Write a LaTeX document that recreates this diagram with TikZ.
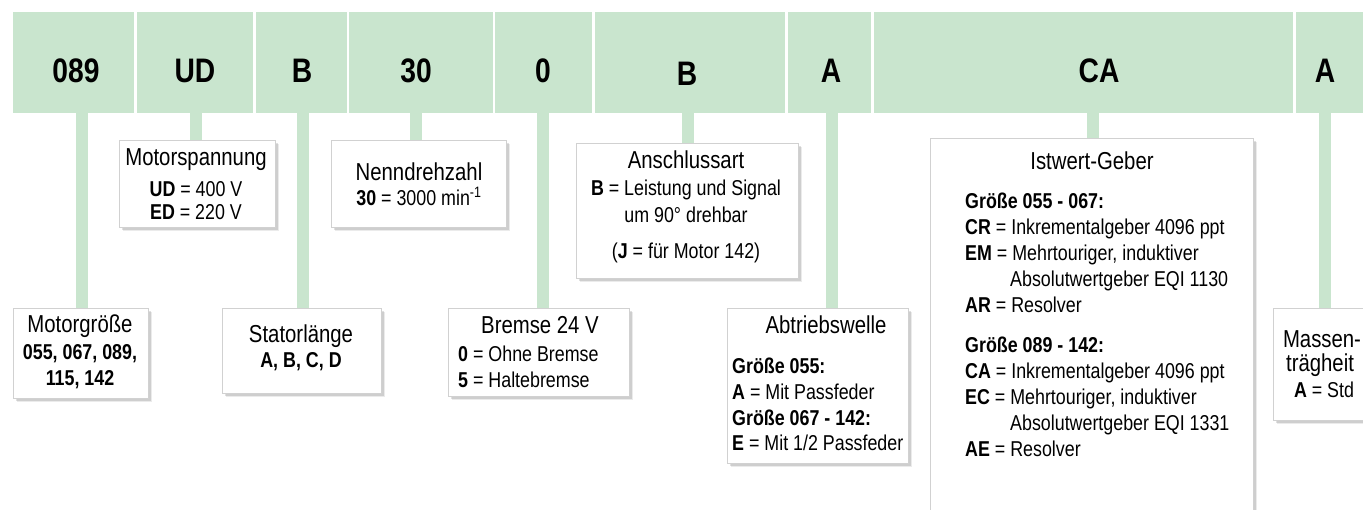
\documentclass[tikz,border=0pt]{standalone}
\usepackage{fontspec}
\setmainfont{Liberation Sans}[FakeStretch=0.83]
\usetikzlibrary{shadows}
\definecolor{band}{RGB}{201,229,206}
\pgfdeclarelayer{bg}
\pgfsetlayers{bg,main}
\tikzset{
  cell/.style={fill=band, draw=none, anchor=north west, inner sep=0pt, outer sep=0pt, minimum height=101pt},
  code/.style={font=\fontsize{34}{34}\selectfont\bfseries, anchor=base, inner sep=0pt},
  infobox/.style={fill=white, draw=black!18, line width=0.6pt, anchor=north west, inner sep=0pt, outer sep=0pt,
    drop shadow={shadow xshift=4pt, shadow yshift=-4pt, opacity=0.08, fill=black},
    drop shadow={shadow xshift=2.5pt, shadow yshift=-2.5pt, opacity=0.12, fill=black},
    drop shadow={shadow xshift=1.2pt, shadow yshift=-1.2pt, opacity=0.18, fill=black}},
  ttl/.style={font=\fontsize{24.5}{26}\selectfont, anchor=base, inner sep=0pt},
  txt/.style={font=\fontsize{21.5}{26}\selectfont, anchor=base, inner sep=0pt},
  txtl/.style={txt, anchor=base west},
  conn/.style={draw=band, line width=12pt},
}
\begin{document}
\begin{tikzpicture}[x=1pt, y=-1pt]
\useasboundingbox (0,0) rectangle (1363,509);
\clip (0,0) rectangle (1363,509);
% top band
\node[cell, minimum width=121pt] (c1) at (13,12) {};
\node[cell, minimum width=116pt] (c2) at (137,12) {};
\node[cell, minimum width=91pt]  (c3) at (256,12) {};
\node[cell, minimum width=144pt] (c4) at (349,12) {};
\node[cell, minimum width=97pt]  (c5) at (495,12) {};
\node[cell, minimum width=190pt] (c6) at (595,12) {};
\node[cell, minimum width=83pt]  (c7) at (788,12) {};
\node[cell, minimum width=419pt] (c8) at (874,12) {};
\node[cell, minimum width=90pt]  (c9) at (1296,12) {};
\node[code] (l1) at (76,82) {089};
\node[code] (l2) at (195,82) {UD};
\node[code] (l3) at (302,82) {B};
\node[code] (l4) at (416,82) {30};
\node[code] (l5) at (543,82) {0};
\node[code] (l6) at (687,85) {B};
\node[code] (l7) at (831,82) {A};
\node[code] (l8) at (1099,82) {CA};
\node[code] (l9) at (1325,82) {A};
% boxes
\node[infobox, minimum width=156pt, minimum height=87pt]  (ms) at (119,140) {};
\node[infobox, minimum width=175pt, minimum height=87pt]  (nd) at (331,140) {};
\node[infobox, minimum width=222pt, minimum height=135pt] (an) at (576,143) {};
\node[infobox, minimum width=323pt, minimum height=400pt] (iw) at (930,138) {};
\node[infobox, minimum width=135pt, minimum height=90pt]  (mg) at (13,308) {};
\node[infobox, minimum width=159pt, minimum height=85pt]  (sl) at (222,308) {};
\node[infobox, minimum width=181pt, minimum height=88pt]  (br) at (448,308) {};
\node[infobox, minimum width=181pt, minimum height=155pt] (ab) at (727,308) {};
\node[infobox, minimum width=120pt, minimum height=112pt] (mt) at (1273,308) {};
% connectors
\begin{pgfonlayer}{bg}
\draw[conn] (82,0 |- c1.south) -- (82,0 |- mg.north);
\draw[conn] (196,0 |- c2.south) -- (196,0 |- ms.north);
\draw[conn] (303,0 |- c3.south) -- (303,0 |- sl.north);
\draw[conn] (416,0 |- c4.south) -- (416,0 |- nd.north);
\draw[conn] (543,0 |- c5.south) -- (543,0 |- br.north);
\draw[conn] (688,0 |- c6.south) -- (688,0 |- an.north);
\draw[conn] (832,0 |- c7.south) -- (832,0 |- ab.north);
\draw[conn] (1093,0 |- c8.south) -- (1093,0 |- iw.north);
\draw[conn] (1325,0 |- c9.south) -- (1325,0 |- mt.north);
\end{pgfonlayer}
% Motorspannung
\node[ttl] (ms1) at (196,165) {Motorspannung};
\node[txt] (ms2) at (196,196) {\textbf{UD} = 400 V};
\node[txt] (ms3) at (196,219) {\textbf{ED} = 220 V};
% Nenndrehzahl
\node[ttl] (nd1) at (419,180) {Nenndrehzahl};
\node[txt] (nd2) at (419,205) {\textbf{30} = 3000 min\textsuperscript{-1}};
% Anschlussart
\node[ttl] (an1) at (686,168) {Anschlussart};
\node[txt] (an2) at (686,195) {\textbf{B} = Leistung und Signal};
\node[txt] (an3) at (686,222) {um 90° drehbar};
\node[txt] (an4) at (686,258) {(\textbf{J} = für Motor 142)};
% Istwert-Geber
\node[ttl] (iw1) at (1092,169) {Istwert-Geber};
\node[txtl] (iw2) at (965,208) {\textbf{Größe 055 - 067:}};
\node[txtl] (iw3) at (965,234) {\textbf{CR} = Inkrementalgeber 4096 ppt};
\node[txtl] (iw4) at (965,260) {\textbf{EM} = Mehrtouriger, induktiver};
\node[txtl] (iw5) at (1010,286) {Absolutwertgeber EQI 1130};
\node[txtl] (iw6) at (965,312) {\textbf{AR} = Resolver};
\node[txtl] (iw7) at (965,352) {\textbf{Größe 089 - 142:}};
\node[txtl] (iw8) at (965,378) {\textbf{CA} = Inkrementalgeber 4096 ppt};
\node[txtl] (iw9) at (965,404) {\textbf{EC} = Mehrtouriger, induktiver};
\node[txtl] (iw10) at (1010,430) {Absolutwertgeber EQI 1331};
\node[txtl] (iw11) at (965,456) {\textbf{AE} = Resolver};
% Motorgroesse
\node[ttl] (mg1) at (80,332) {Motorgröße};
\node[txt] (mg2) at (80,359) {\textbf{055, 067, 089,}};
\node[txt] (mg3) at (80,385) {\textbf{115, 142}};
% Statorlaenge
\node[ttl] (sl1) at (301,342) {Statorlänge};
\node[txt] (sl2) at (301,367) {\textbf{A, B, C, D}};
% Bremse
\node[ttl] (br1) at (540,333) {Bremse 24 V};
\node[txtl] (br2) at (458,361) {\textbf{0} = Ohne Bremse};
\node[txtl] (br3) at (458,387) {\textbf{5} = Haltebremse};
% Abtriebswelle
\node[ttl] (ab1) at (826,333) {Abtriebswelle};
\node[txtl] (ab2) at (732,373) {\textbf{Größe 055:}};
\node[txtl] (ab3) at (732,399) {\textbf{A} = Mit Passfeder};
\node[txtl] (ab4) at (732,425) {\textbf{Größe 067 - 142:}};
\node[txtl] (ab5) at (732,450) {\textbf{E} = Mit 1/2 Passfeder};
% Massentraegheit
\node[ttl] (mt1) at (1322,347) {Massen-};
\node[ttl] (mt2) at (1320,371) {trägheit};
\node[txt] (mt3) at (1324,397) {\textbf{A} = Std};
\end{tikzpicture}
\end{document}
